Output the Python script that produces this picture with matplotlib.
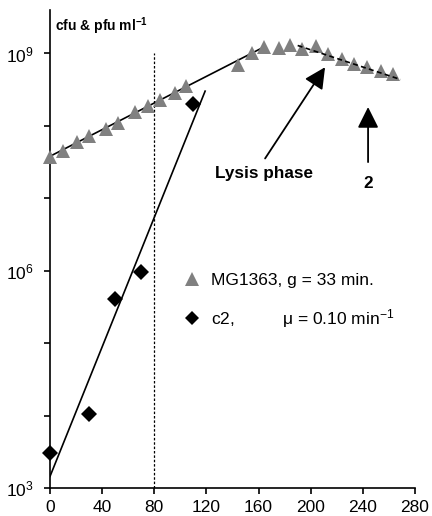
import matplotlib
matplotlib.use('Agg')
import matplotlib.pyplot as plt
from matplotlib.ticker import FixedLocator, FuncFormatter
from matplotlib.lines import Line2D
import numpy as np

plt.rcParams['font.family'] = ['Liberation Sans', 'DejaVu Sans']
plt.rcParams['mathtext.fontset'] = 'custom'
plt.rcParams['mathtext.rm'] = 'Liberation Sans'
plt.rcParams['mathtext.it'] = 'Liberation Sans:italic'
plt.rcParams['mathtext.bf'] = 'Liberation Sans:bold'

# MG1363 host (cfu/ml), time in min
mg_time = [0, 10, 21, 30, 43, 52, 65, 75, 84, 96, 104,
           144, 155, 164, 176, 184, 193, 204, 213, 224, 233, 243, 254, 263]
mg_log = [7.57, 7.66, 7.78, 7.86, 7.96, 8.04, 8.19, 8.28, 8.36, 8.45, 8.55,
          8.84, 9.00, 9.09, 9.07, 9.12, 9.06, 9.10, 8.99, 8.93, 8.86, 8.81, 8.76, 8.71]

# phage c2 (pfu/ml)
c2_time = [0, 30, 50, 70, 110]
c2_log = [3.48, 4.02, 5.61, 5.98, 8.30]

# fitted lines (log10 values at the end points)
mg_fit_t = [0, 162]
mg_fit_log = [7.58, 9.07]
lysis_fit_t = [190, 269]
lysis_fit_log = [9.11, 8.64]
c2_fit_t = [0, 119]
c2_fit_log = [3.16, 8.48]

x_ticks = [0, 40, 80, 120, 160, 200, 240, 280]
y_decades = [3, 4, 5, 6, 7, 8, 9]
y_labelled = [3, 6, 9]

fig = plt.figure(figsize=(4.32, 5.16), dpi=100)
ax = fig.add_axes([50/432, 28/516, 365/432, 478/516])
ax.set_yscale('log')

p = lambda v: 10.0 ** np.asarray(v)

ax.plot(mg_fit_t, p(mg_fit_log), color='black', lw=1.2, zorder=2)
ax.plot(lysis_fit_t, p(lysis_fit_log), color='black', lw=1.2, ls=(0, (3, 2)), zorder=4)
ax.plot(c2_fit_t, p(c2_fit_log), color='black', lw=1.2, zorder=2)
ax.axvline(80, ymax=(9 - 3) / 6.6, color='black', lw=0.9, ls=(0, (2, 1.5)), zorder=1)

ax.plot(mg_time, p(mg_log), ls='none', marker='^', ms=10.5, color='#808080',
        markeredgewidth=0, zorder=3, clip_on=False)
ax.plot(c2_time, p(c2_log), ls='none', marker='D', ms=8, color='black',
        markeredgewidth=0, zorder=3, clip_on=False)

ax.set_xlim(0, 280)
ax.set_ylim(1e3, p(9.6))
ax.xaxis.set_major_locator(FixedLocator(x_ticks))
ax.yaxis.set_major_locator(FixedLocator(p(y_decades)))
ax.yaxis.set_minor_locator(FixedLocator([]))
ax.yaxis.set_major_formatter(FuncFormatter(
    lambda v, pos: r'$\mathregular{10^{%d}}$' % round(np.log10(v))
    if round(np.log10(v)) in y_labelled else ''))

for s in ['top', 'right']:
    ax.spines[s].set_visible(False)
for s in ['left', 'bottom']:
    ax.spines[s].set_linewidth(1.2)
ax.tick_params(axis='both', direction='out', length=4, width=1.2, labelsize=12.5)
ax.tick_params(axis='y', pad=8)
ax.tick_params(axis='x', pad=5)

ax.text(4, p(9.37), r'cfu & pfu ml$\mathbf{^{-1}}$', fontsize=10,
        fontweight='bold', ha='left', va='center')

arrow = dict(arrowstyle='-|>,head_length=0.8,head_width=0.4', mutation_scale=16,
             lw=1.3, color='black', shrinkA=0, shrinkB=0)
ax.annotate('', xy=(211, p(8.81)), xytext=(165, p(7.55)), arrowprops=arrow)
ax.text(164, p(7.34), 'Lysis phase', fontsize=12.3, fontweight='bold',
        ha='center', va='center')
ax.annotate('', xy=(244, p(8.26)), xytext=(244, p(7.50)), arrowprops=arrow)
ax.text(244, p(7.20), '2', fontsize=12.3, fontweight='bold', ha='center', va='center')

handles = [Line2D([], [], ls='none', marker='^', ms=10.5, color='#808080', markeredgewidth=0),
           Line2D([], [], ls='none', marker='D', ms=7, color='black', markeredgewidth=0)]
labels = ['MG1363, g = 33 min.', r'c2,          μ = 0.10 min$^{-1}$']
ax.legend(handles, labels, loc='upper left', bbox_to_anchor=(0.366, 0.45),
          frameon=False, fontsize=12.5, borderpad=0, borderaxespad=0,
          handlelength=1, handletextpad=0.6, labelspacing=1.1)

fig.savefig('out.png', dpi=100)
